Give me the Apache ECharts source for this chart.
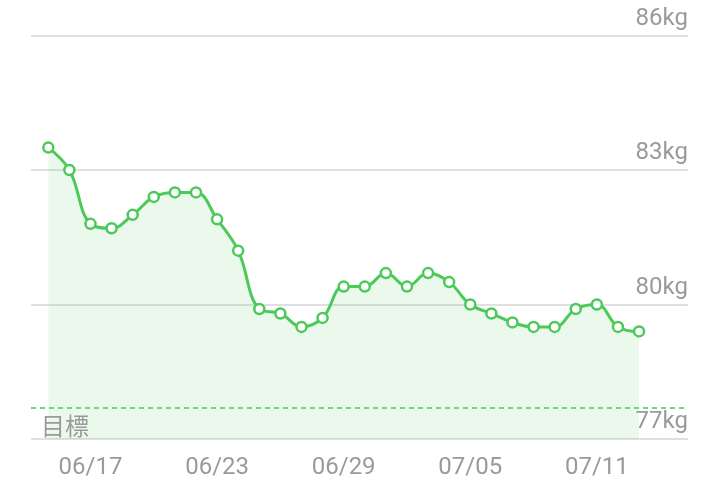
<!DOCTYPE html>
<html>
<head>
<meta charset="utf-8">
<script src="https://cdn.jsdelivr.net/npm/echarts@6/dist/echarts.min.js"></script>
<style>html,body{margin:0;padding:0;background:#fff}#c{width:720px;height:498px}</style>
</head>
<body>
<div id="c"></div>
<script>
const dates = ["06/15","06/16","06/17","06/18","06/19","06/20","06/21","06/22","06/23","06/24",
  "06/25","06/26","06/27","06/28","06/29","06/30","07/01","07/02","07/03","07/04",
  "07/05","07/06","07/07","07/08","07/09","07/10","07/11","07/12","07/13"];
const weights = [83.5,83.0,81.8,81.7,82.0,82.4,82.5,82.5,81.9,81.2,
  79.9,79.8,79.5,79.7,80.4,80.4,80.7,80.4,80.7,80.5,
  80.0,79.8,79.6,79.5,79.5,79.9,80.0,79.5,79.4];
const labelIndices = [2,8,14,20,26];
const goal = 77.7;
const goalLabel = "目標";
const yMin = 77, yMax = 86, yStep = 3;

const chart = echarts.init(document.getElementById('c'), null, {renderer:'canvas'});
const GREEN = '#4dc95a';
const GRAY = '#9a9a9a';
chart.setOption({
  animation: false,
  grid: {left: 31, right: 32, top: 35.5, height: 403.5},
  xAxis: {
    type: 'value', min: -0.82, max: 30.32,
    axisLine: {show:false}, axisTick: {show:false}, splitLine: {show:false},
    axisLabel: {
      customValues: labelIndices,
      formatter: v => dates[Math.round(v)],
      color: GRAY, fontSize: 24, fontFamily: 'Roboto', margin: 17
    }
  },
  yAxis: {
    type: 'value', position: 'right', min: yMin, max: yMax, interval: yStep,
    axisLine: {show:false}, axisTick: {show:false},
    splitLine: {lineStyle: {color: '#e0e0e0', width: 2}},
    axisLabel: {
      inside: true, margin: 0, formatter: '{value}kg',
      color: GRAY, fontSize: 24, fontFamily: 'Roboto',
      verticalAlign: 'bottom', padding: [0,0,5,0]
    }
  },
  series: [{
    type: 'line',
    data: weights.map((w,i)=>[i,w]),
    smooth: 0.4,
    symbol: 'circle', symbolSize: 10,
    itemStyle: {color: '#fff', borderColor: GREEN, borderWidth: 2.5},
    lineStyle: {color: GREEN, width: 3},
    areaStyle: {color: 'rgba(77,201,90,0.16)'},
    markLine: {
      silent: true, symbol: 'none',
      lineStyle: {color: '#6fd87c', type: [5,4], width: 2},
      label: {
        formatter: goalLabel, position: 'insideStartBottom',
        color: GRAY, fontSize: 24, fontFamily: '"Noto Sans CJK JP", sans-serif',
        distance: [10, 6]
      },
      data: [{yAxis: goal}]
    }
  }]
});
</script>
</body>
</html>
